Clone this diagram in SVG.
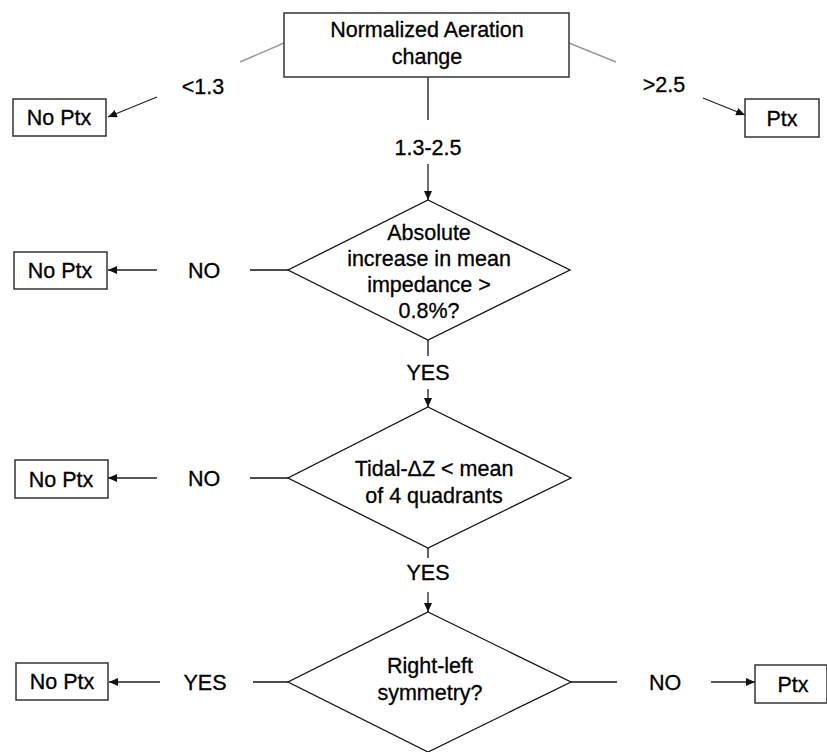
<svg xmlns="http://www.w3.org/2000/svg" width="827" height="752" viewBox="0 0 827 752">
<style>
text{font-family:"Liberation Sans",Arial,sans-serif;font-size:21.5px;fill:#000;stroke:#000;stroke-width:0.3;text-anchor:middle}
.box{fill:#fff;stroke:#333;stroke-width:1.5}
.dia{fill:#fff;stroke:#111;stroke-width:1.3}
.ln{fill:none;stroke:#111;stroke-width:1.3}
.gl{fill:none;stroke:#999;stroke-width:1.5}
.ar{fill:none;stroke:#222;stroke-width:1.3;marker-end:url(#ah)}
</style>
<defs>
<marker id="ah" markerUnits="userSpaceOnUse" markerWidth="10" markerHeight="8" refX="9" refY="4" orient="auto">
<path d="M0,0 L9,4 L0,8 z" fill="#111"/>
</marker>
</defs>
<g id="connectors">
<path class="gl" d="M284,43 L240,62"/>
<path class="gl" d="M569,43 L616,62"/>
<path class="ar" d="M157,97 L108,117"/>
<path class="ar" d="M703,98 L745,115"/>
<path class="ln" d="M428,77 L428,120"/>
<path class="ar" d="M428,164 L428,200"/>
<path class="ln" d="M288,270 L250,270"/>
<path class="ar" d="M157,270 L108,270"/>
<path class="ln" d="M428,340 L428,356"/>
<path class="ar" d="M428,389 L428,407"/>
<path class="ln" d="M288,478 L250,478"/>
<path class="ar" d="M157,478 L108,478"/>
<path class="ln" d="M428,548 L428,558"/>
<path class="ar" d="M428,592 L428,612"/>
<path class="ln" d="M288,682 L253,682"/>
<path class="ar" d="M160,682 L109,682"/>
<path class="ln" d="M571,682 L617,682"/>
<path class="ar" d="M711,682 L755,682"/>
<text x="203" y="94">&lt;1.3</text>
<text x="664" y="92">&gt;2.5</text>
<text x="428" y="155">1.3-2.5</text>
<text x="204" y="278">NO</text>
<text x="428" y="380">YES</text>
<text x="204" y="486">NO</text>
<text x="428" y="580">YES</text>
<text x="205" y="690">YES</text>
<text x="665" y="690">NO</text>
</g>
<g id="start">
<rect class="box" x="284" y="13" width="285" height="64"/>
<text x="427" y="37">Normalized Aeration</text>
<text x="427" y="64">change</text>
</g>
<g id="noptx1">
<rect class="box" x="13" y="99" width="93" height="37"/>
<text x="59" y="125">No Ptx</text>
</g>
<g id="ptx1">
<rect class="box" x="745" y="99" width="74" height="38"/>
<text x="782" y="126">Ptx</text>
</g>
<g id="decision1">
<polygon class="dia" points="428,200 570,270 428,340 288,270"/>
<text x="429" y="240">Absolute</text>
<text x="429" y="266">increase in mean</text>
<text x="429" y="292">impedance &gt;</text>
<text x="429" y="318">0.8%?</text>
</g>
<g id="noptx2">
<rect class="box" x="14" y="252" width="93" height="37"/>
<text x="60" y="278">No Ptx</text>
</g>
<g id="decision2">
<polygon class="dia" points="428,407 571,478 428,548 288,478"/>
<text x="434" y="476">Tidal-ΔZ &lt; mean</text>
<text x="434" y="503">of 4 quadrants</text>
</g>
<g id="noptx3">
<rect class="box" x="15" y="460" width="93" height="38"/>
<text x="61" y="487">No Ptx</text>
</g>
<g id="decision3">
<polygon class="dia" points="428,612 571,682 428,752 288,682"/>
<text x="430" y="673">Right-left</text>
<text x="430" y="700">symmetry?</text>
</g>
<g id="noptx4">
<rect class="box" x="16" y="663" width="92" height="37"/>
<text x="62" y="689">No Ptx</text>
</g>
<g id="ptx2">
<rect class="box" x="755" y="665" width="72" height="38"/>
<text x="793" y="692">Ptx</text>
</g>
</svg>
